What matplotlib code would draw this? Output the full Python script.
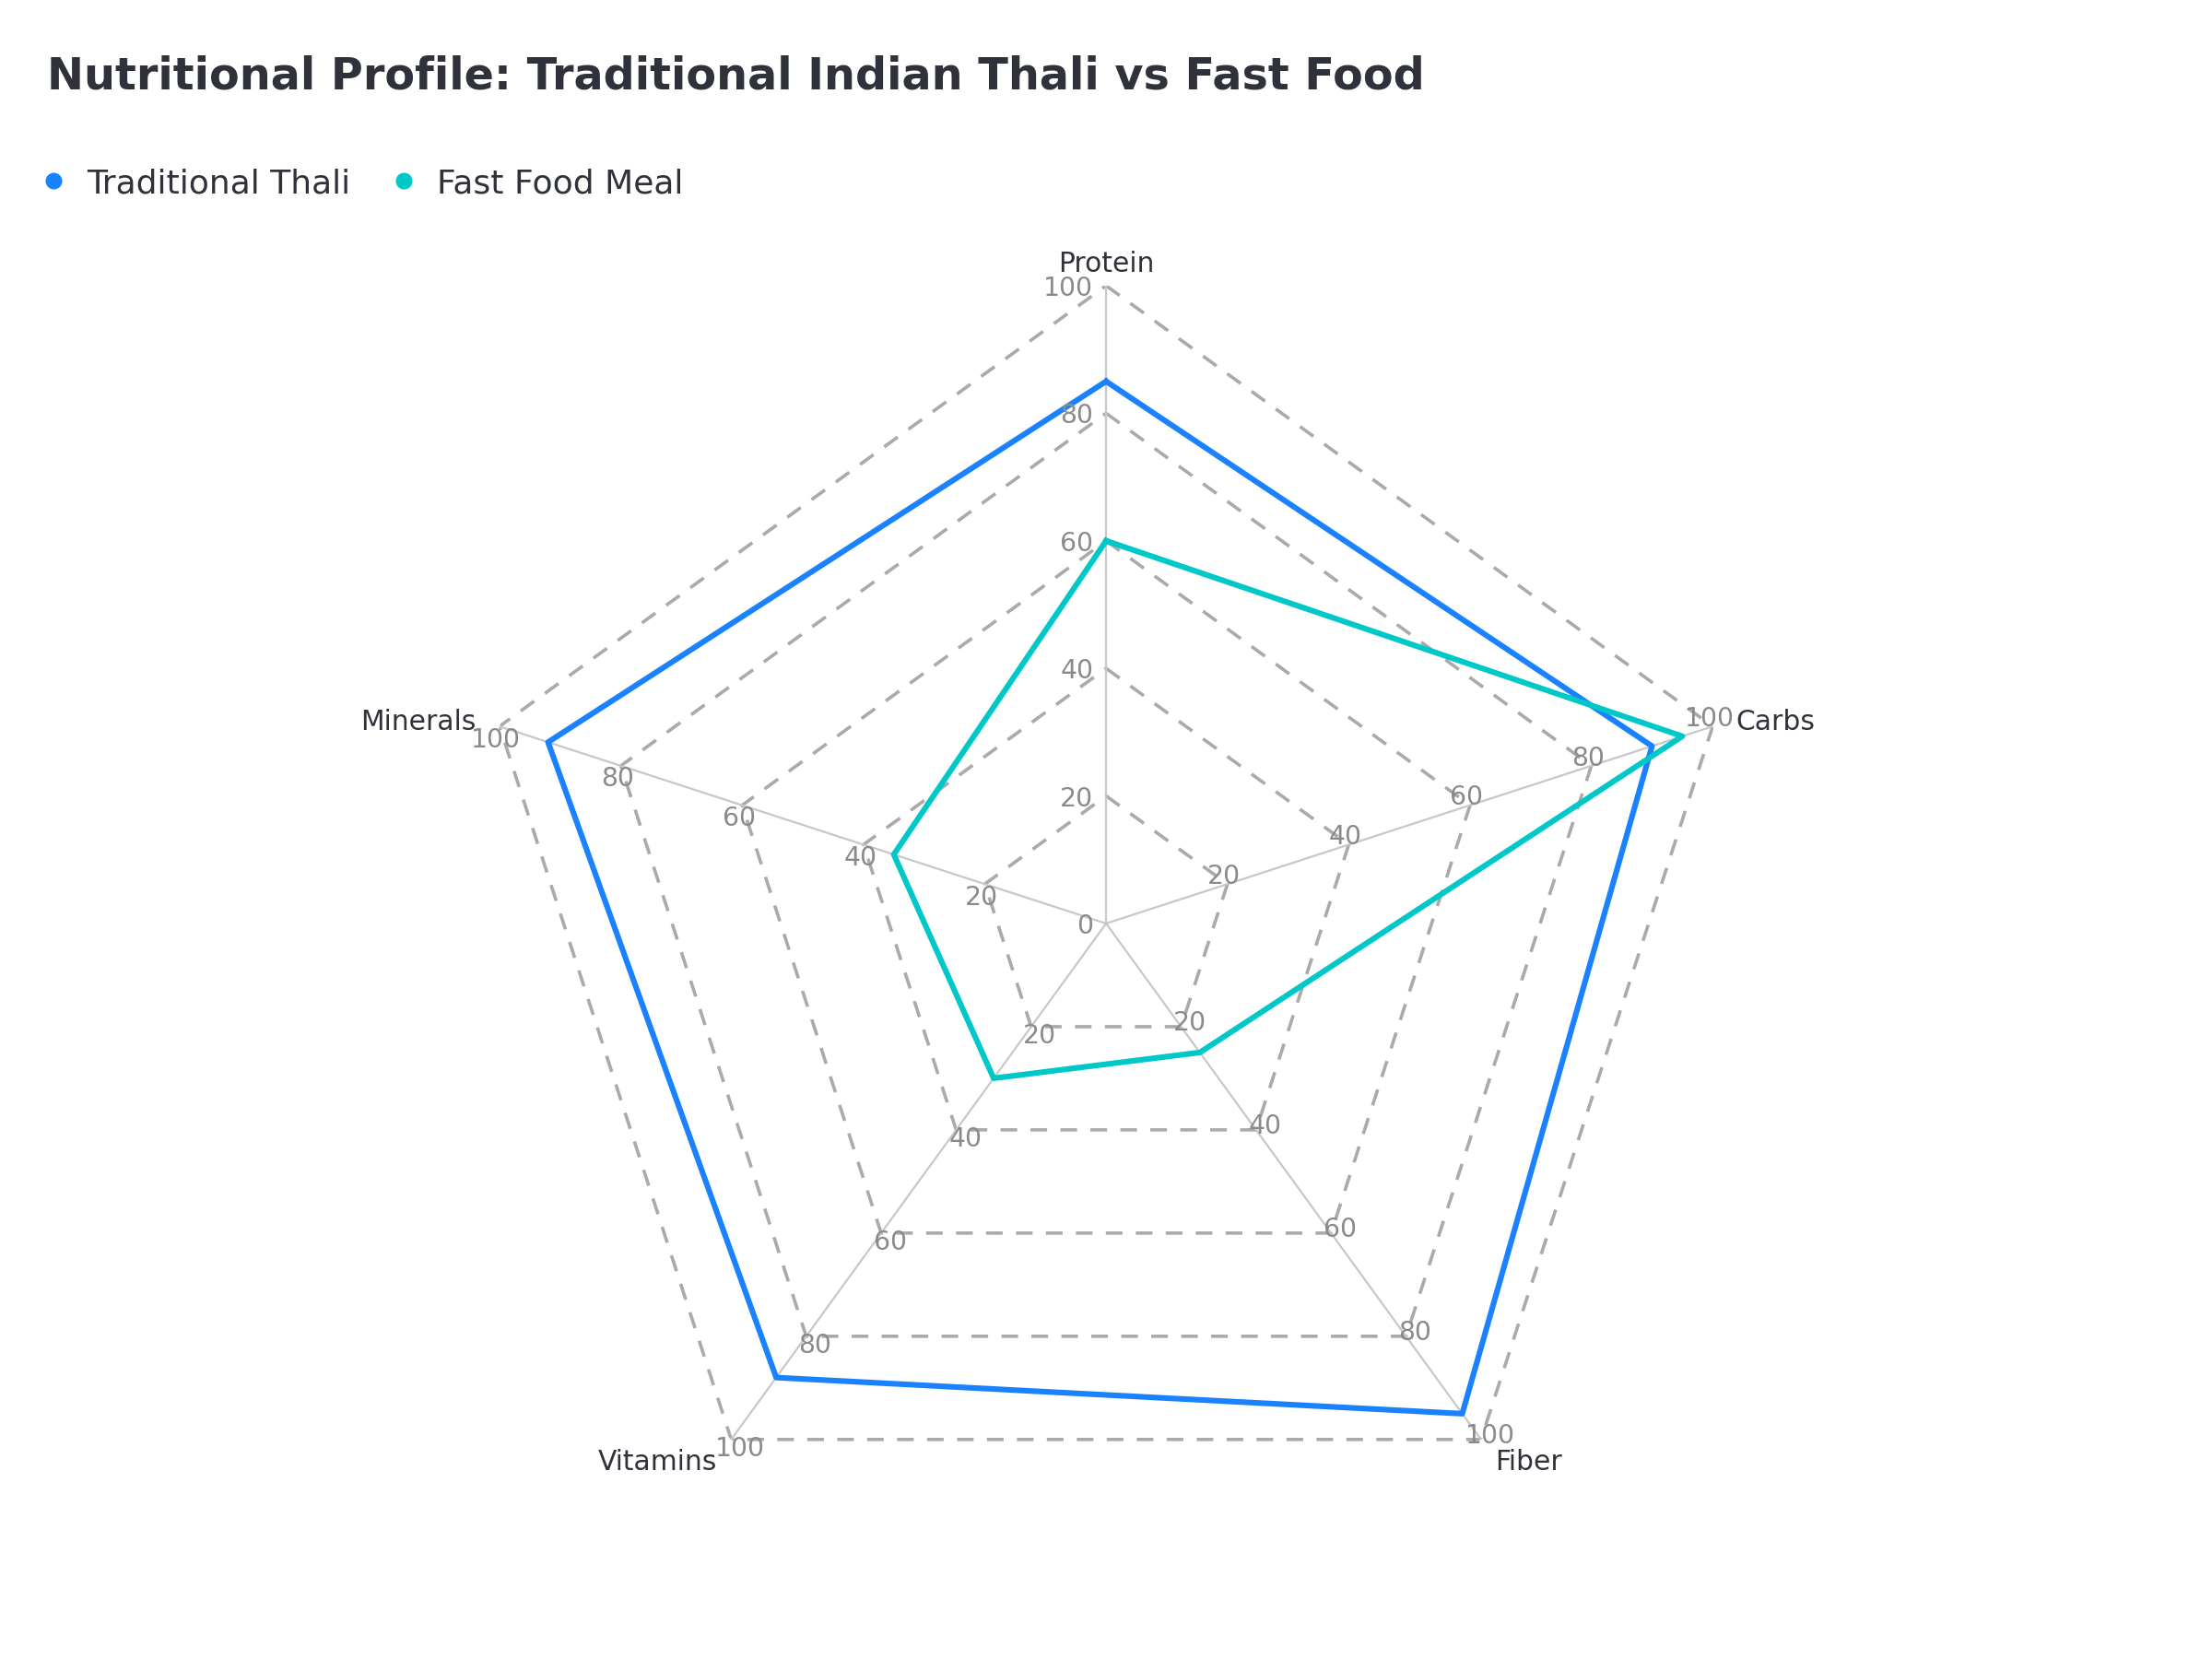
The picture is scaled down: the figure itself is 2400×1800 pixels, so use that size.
import numpy as np
import matplotlib
matplotlib.use("Agg")
import matplotlib.pyplot as plt
from matplotlib.lines import Line2D

plt.rcParams['font.family'] = ['DejaVu Sans']

# data
categories = ['Protein', 'Carbs', 'Fiber', 'Vitamins', 'Minerals']
thali = [85, 90, 95, 88, 92]
fast_food = [60, 95, 25, 30, 35]
series_names = ['Traditional Thali', 'Fast Food Meal']
series_colors = ['#1a82ff', '#00c8c8']
r_ticks = [20, 40, 60, 80, 100]

TEXT = '#30323b'
GRAY_TXT = '#8a8a8a'

fig = plt.figure(figsize=(12, 9), dpi=200)
ax = fig.add_axes([0.2117, 0.0589, 0.5767, 0.7689], polar=True)

n = len(categories)
# clockwise from top
angles = np.pi / 2 - np.arange(n) * 2 * np.pi / n
closed = np.append(angles, angles[0])

ax.set_ylim(0, 100)
ax.set_xticks([])
ax.set_yticks([])
ax.grid(False)
ax.spines['polar'].set_visible(False)

# polygon grid + spokes
for r in r_ticks:
    ax.plot(closed, [r] * (n + 1), color='#aaaaaa', lw=1.3, ls=(0, (5, 4)), zorder=1)
for a in angles:
    ax.plot([a, a], [0, 100], color='#c8c8c8', lw=0.8, zorder=1)

# series
for vals, color in zip([thali, fast_food], series_colors):
    ax.plot(closed, list(vals) + [vals[0]], color=color, lw=2.2, zorder=3)

# radial labels on every spoke
dy = -1.1  # nudge digits down so the glyphs sit centred on the point
for i, a in enumerate(angles):
    tx, ty = -np.sin(a), np.cos(a)
    ticks = ([0] if i == 0 else []) + r_ticks
    for r in ticks:
        if tx < -0.9:
            ha, off = 'right', (-5, dy)
        else:
            ha, off = 'center', (4.3 * tx, 4.3 * ty + dy)
        ax.annotate(str(r), (a, r), xytext=off, textcoords='offset points',
                    ha=ha, va='center', fontsize=10.2, color=GRAY_TXT, zorder=4)

# category labels
for a, lab in zip(angles, categories):
    c, s = np.cos(a), np.sin(a)
    ha = 'left' if c > 0.1 else ('right' if c < -0.1 else 'center')
    ax.annotate(lab, (a, 100), xytext=(9.5 * c, 9.5 * s + dy), textcoords='offset points',
                ha=ha, va='center', fontsize=10.7, color=TEXT)

fig.text(51 / 2400, 1 - 83 / 1800,
         'Nutritional Profile: Traditional Indian Thali vs Fast Food',
         fontsize=17.2, fontweight='bold', color=TEXT, ha='left', va='center')

handles = [Line2D([], [], ls='none', marker='o', markersize=5.5, color=c)
           for c in series_colors]
fig.legend(handles, series_names, loc='center left', bbox_to_anchor=(0.012, 1 - 199 / 1800),
           ncol=2, frameon=False, fontsize=13, handletextpad=0.6, columnspacing=1.2,
           handlelength=0.8, labelcolor=TEXT, borderaxespad=0)

fig.savefig('out.png', dpi=200)
